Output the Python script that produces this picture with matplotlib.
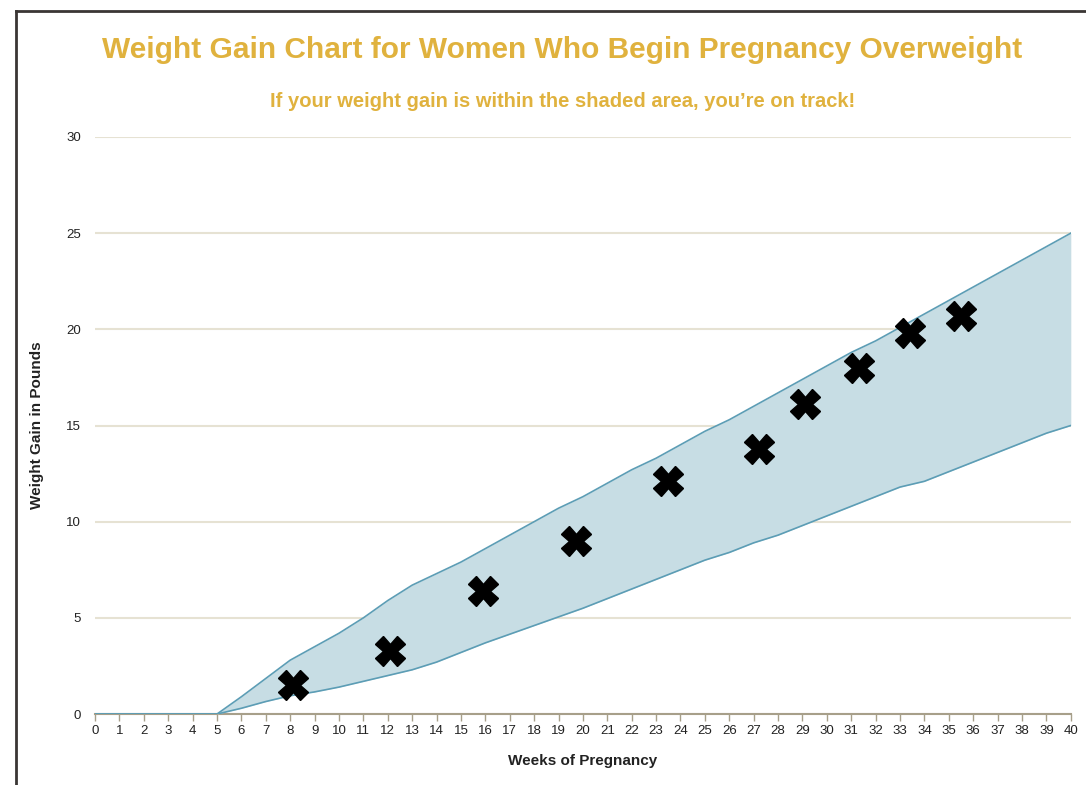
import matplotlib
matplotlib.use("Agg")
import matplotlib.pyplot as plt
from matplotlib.lines import Line2D

# weeks of pregnancy 0..40
weeks = list(range(0, 41))
# upper edge of the recommended band (pounds)
upper = [0, 0, 0, 0, 0, 0, 0.9, 1.85, 2.8, 3.5, 4.2, 5.0, 5.9, 6.7, 7.3, 7.9,
         8.6, 9.3, 10.0, 10.7, 11.3, 12.0, 12.7, 13.3, 14.0, 14.7, 15.3, 16.0,
         16.7, 17.4, 18.1, 18.8, 19.4, 20.1, 20.8, 21.5, 22.2, 22.9, 23.6,
         24.3, 25.0]
# lower edge of the recommended band (pounds)
lower = [0, 0, 0, 0, 0, 0, 0.3, 0.65, 0.95, 1.15, 1.4, 1.7, 2.0, 2.3, 2.7, 3.2,
         3.7, 4.15, 4.6, 5.05, 5.5, 6.0, 6.5, 7.0, 7.5, 8.0, 8.4, 8.9, 9.3, 9.8,
         10.3, 10.8, 11.3, 11.8, 12.1, 12.6, 13.1, 13.6, 14.1, 14.6, 15.0]
# recorded weigh-ins
visitWeeks = [8.1, 12.1, 15.9, 19.7, 23.5, 27.2, 29.1, 31.3, 33.4, 35.5]
visitGain = [1.5, 3.3, 6.4, 9.0, 12.1, 13.8, 16.1, 18.0, 19.8, 20.7]

GOLD = "#e0b23e"
plt.rcParams['font.family'] = ['Liberation Sans', 'DejaVu Sans']

fig = plt.figure(figsize=(10.86, 7.85), dpi=100)
ax = fig.add_axes([0.0875, 0.0904, 0.8985, 0.7351])

#the shaded "on track" band
ax.fill_between(weeks, lower, upper, color="#c7dde4", zorder=2, linewidth=0)
ax.plot(weeks, upper, color="#5c9db5", linewidth=1.2, zorder=3)
ax.plot(weeks, lower, color="#5c9db5", linewidth=1.2, zorder=3)

ax.plot(visitWeeks, visitGain, linestyle="none", marker="X", markersize=21,
        color="black", markeredgecolor="black", zorder=5)

ax.set_xlim(0, 40)
ax.set_ylim(0, 30)
ax.set_xticks(range(0, 41))
ax.set_yticks(range(0, 31, 5))
ax.yaxis.grid(True, color="#e6e2d3", linewidth=1.5, zorder=1)
ax.set_axisbelow(True)
for side in ["top", "right", "left"]:
    ax.spines[side].set_visible(False)
ax.spines["bottom"].set_color("#a79f8a")
ax.spines["bottom"].set_linewidth(1.5)
ax.spines["bottom"].set_zorder(1)
ax.tick_params(axis="x", length=5, width=1, color="#a79f8a", labelsize=9.5,
               pad=3, labelcolor="#222222")
ax.tick_params(axis="y", length=0, labelsize=9.5, pad=10, labelcolor="#222222")

ax.set_xlabel("Weeks of Pregnancy", fontsize=11, fontweight="bold",
              color="#222222", labelpad=12)
ax.set_ylabel("Weight Gain in Pounds", fontsize=11, fontweight="bold",
              color="#222222", labelpad=16)

fig.text(0.518, 0.936, "Weight Gain Chart for Women Who Begin Pregnancy Overweight",
         ha="center", va="center", fontsize=21.5, fontweight="bold", color=GOLD)
fig.text(0.518, 0.871, "If your weight gain is within the shaded area, you\u2019re on track!",
         ha="center", va="center", fontsize=14.5, fontweight="bold", color=GOLD)

#dark frame round the chart (left and top edges)
fig.add_artist(Line2D([0.0143, 0.0143], [0, 0.986], transform=fig.transFigure,
                      color="#3a3634", linewidth=2))
fig.add_artist(Line2D([0.0143, 1.0], [0.986, 0.986], transform=fig.transFigure,
                      color="#3a3634", linewidth=2))

fig.savefig("out.png", dpi=100)
